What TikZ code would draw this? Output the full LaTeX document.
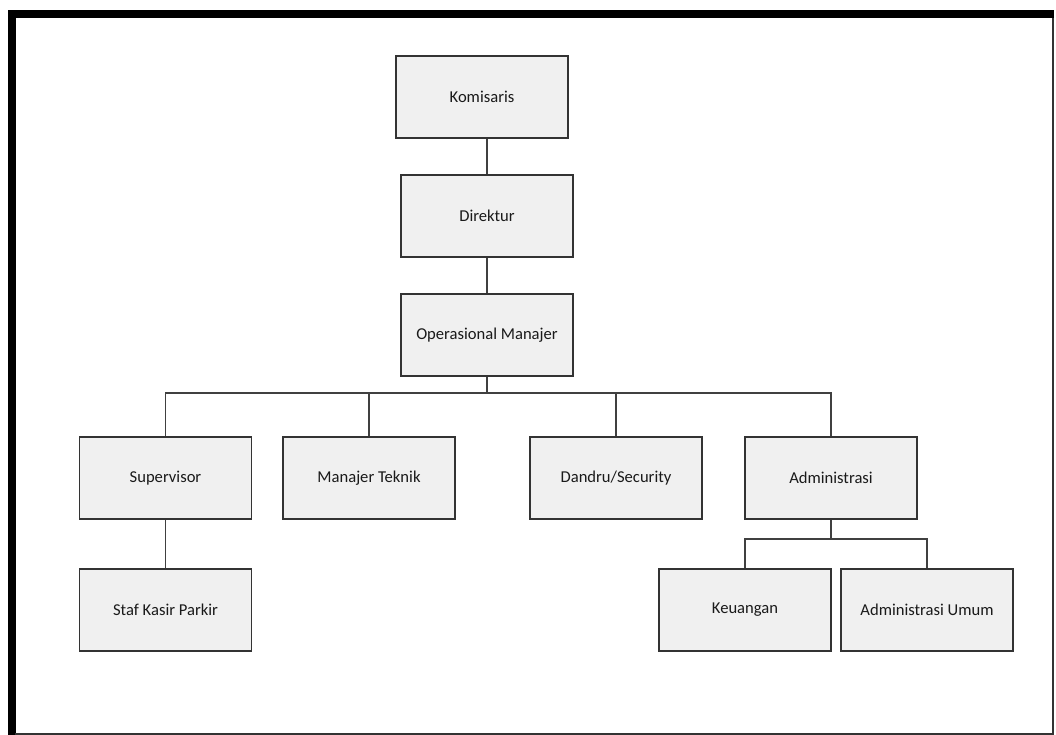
\documentclass[tikz,border=0pt]{standalone}
\usepackage{fontspec}
\setmainfont{Carlito}
\definecolor{boxfill}{HTML}{F0F0F0}
\definecolor{boxline}{HTML}{333333}
\definecolor{conline}{HTML}{404040}
\definecolor{txt}{HTML}{1A1A1A}
\tikzset{
  orgbox/.style={draw=boxline, line width=1.5pt, fill=boxfill, minimum width=172pt, minimum height=82pt, inner sep=0pt, text=txt, font=\fontsize{16.6}{20}\selectfont},
  conn/.style={draw=conline, line width=1.3pt}
}
\begin{document}
\begin{tikzpicture}[x=1pt,y=-1pt]
\useasboundingbox (0,0) rectangle (1056,735);
% frame
\fill[white] (0,0) rectangle (1056,735);
\fill[black] (8,10) rectangle (1054,18);
\fill[black] (8,10) rectangle (15.5,735);
\fill[boxline] (1051.5,18) rectangle (1053.5,735);
\fill[boxline] (15,733) rectangle (1053.5,735);
% nodes
\node[orgbox] (kom) at (482,97) {Komisaris};
\node[orgbox] (dir) at (487,216) {Direktur};
\node[orgbox] (op) at (487,335) {Operasional Manajer};
\node[orgbox] (sup) at (165.5,478) {Supervisor};
\node[orgbox] (mt) at (369,478) {Manajer Teknik};
\node[orgbox] (dan) at (616,478) {Dandru/Security};
\node[orgbox] (adm) at (831,478) {Administrasi};
\node[orgbox] (staf) at (165.5,610) {Staf Kasir Parkir};
\node[orgbox] (keu) at (745,610) {Keuangan};
\node[orgbox] (au) at (927,610) {Administrasi Umum};
\coordinate (b1) at (0,393);
\coordinate (b2) at (0,539);
% connectors
\draw[conn] (kom.south -| dir.north) -- (dir.north);
\draw[conn] (dir.south) -- (op.north);
\draw[conn] (op.south) -- (op.south |- b1);
\draw[conn] (sup.north) |- (adm.north |- b1) -- (adm.north);
\draw[conn] (mt.north) -- (mt.north |- b1);
\draw[conn] (dan.north) -- (dan.north |- b1);
\draw[conn] (sup.south) -- (staf.north);
\draw[conn] (adm.south) -- (adm.south |- b2);
\draw[conn] (keu.north) |- (au.north |- b2) -- (au.north);
\end{tikzpicture}
\end{document}
